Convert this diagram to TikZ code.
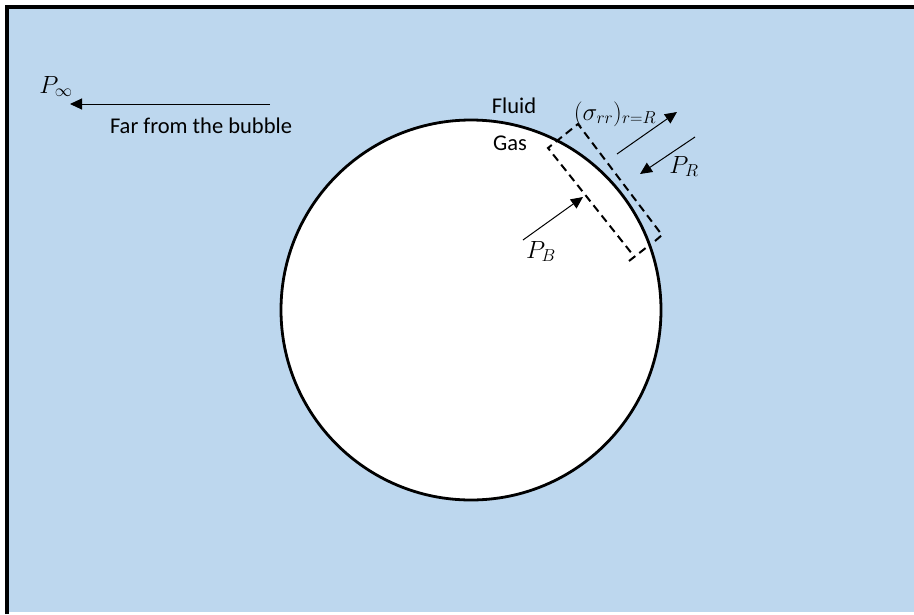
\documentclass[tikz,border=0pt]{standalone}
\usepackage{fontspec}
\setmainfont{Carlito}
\DeclareMathSizes{24}{24}{18}{14}
\usetikzlibrary{arrows.meta}
\definecolor{fluidblue}{HTML}{BDD7EE}
\tikzset{
  lbl/.style={font=\fontsize{22.5}{26}\selectfont, inner sep=0pt, anchor=base},
  mlbl/.style={font=\fontsize{24}{28}\selectfont, inner sep=0pt, anchor=base},
  force/.style={line width=1pt, -{Triangle[length=12pt,width=11pt]}},
  cut/.style={line width=2pt, dash pattern=on 8pt off 5pt},
  bubble/.style={draw=black, fill=white, line width=2.8pt}
}
\begin{document}
\begin{tikzpicture}[x=1pt,y=-1pt]
\useasboundingbox (0,0) rectangle (914,614);
\fill[white] (0,0) rectangle (914,614);
\fill[fluidblue] (6,6) rectangle (914,612);
\draw[line width=4pt] (6.5,614) -- (6.5,6.5) -- (914,6.5);
% bubble
\node[bubble, circle, minimum size=380pt, inner sep=0pt] (bub) at (471,310) {};
% labels
\node[mlbl] (pinf) at (56,93) {$P_\infty$};
\node[lbl] (far) at (201,133) {Far from the bubble};
\node[lbl] (fluid) at (514,113) {Fluid};
\node[lbl] (gas) at (510,150) {Gas};
\node[mlbl] (sig) at (615,120) {$(\sigma_{rr})_{r=R}$};
\node[mlbl] (pr) at (684,173) {$P_R$};
\node[mlbl] (pb) at (541,258) {$P_B$};
% far-field arrow
\coordinate (farS) at (270,104);
\coordinate (farE) at (70,104);
\draw[force] (farS) -- (farE);
% control volume (dashed)
\coordinate (oA) at (655,241);
\coordinate (oB) at (662,235);
\coordinate (oC) at (578,124);
\coordinate (oD) at (548,148);
\coordinate (iE) at (633,255);
\coordinate (tA) at (629,261);
\coordinate (tB) at (647,247);
\draw[cut] (oA) -- (oB) -- (oC) -- (oD) -- (iE);
\draw[cut] (tA) -- (tB);
% force arrows
\coordinate (sS) at (617,154);
\coordinate (sE) at (677,112);
\draw[force] (sS) -- (sE);
\coordinate (rS) at (695,137);
\coordinate (rE) at (640,174);
\draw[force] (rS) -- (rE);
\coordinate (bS) at (523,240);
\coordinate (bE) at (583,197);
\draw[force] (bS) -- (bE);
\end{tikzpicture}
\end{document}
